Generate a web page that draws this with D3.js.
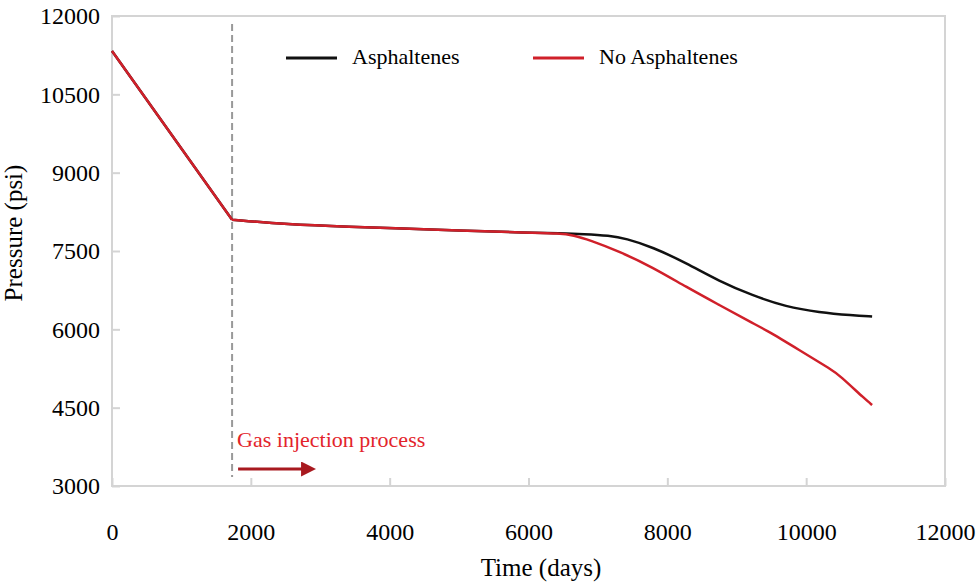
<!DOCTYPE html>
<html>
<head>
<meta charset="utf-8">
<script src="https://cdn.jsdelivr.net/npm/d3@7"></script>
<style>
  body { margin: 0; background: #fff; }
  text { font-family: "Liberation Serif", "Times New Roman", serif; }
</style>
</head>
<body>
<div id="chart"></div>
<script>
// values
const xTicks = [0, 2000, 4000, 6000, 8000, 10000, 12000];
const yTicks = [3000, 4500, 6000, 7500, 9000, 10500, 12000];

// depletion before injection (straight drop)
const depletionDays = [0, 1730];
const depletionPsi = [11330, 8100];

// shared part after injection starts, before the curves split
const commonDays = [1730, 2500, 3500, 4000, 5000, 6000, 6450];
const commonPsi = [8100, 8010, 7960, 7940, 7890, 7850, 7838];

const asphDays = [6450, 6800, 7165, 7400, 7784, 8273, 8748, 9223, 9712, 10187, 10662, 10950];
const asphPsi = [7838, 7825, 7795, 7740, 7576, 7270, 6920, 6650, 6430, 6325, 6268, 6245];

const noAsphDays = [6450, 6650, 6878, 7309, 7784, 8273, 8748, 9223, 9424, 9899, 10374, 10475, 10863, 10950];
const noAsphPsi = [7838, 7800, 7710, 7490, 7193, 6810, 6466, 6121, 5987, 5604, 5221, 5125, 4646, 4551];

const injectionDay = 1730;
const seriesNames = ['Asphaltenes', 'No Asphaltenes'];
const seriesColors = ['#111111', '#d0202a'];

const width = 976, height = 582;
const margin = { top: 16, right: 31, bottom: 96, left: 112 };
const innerW = width - margin.left - margin.right;
const innerH = height - margin.top - margin.bottom;

const svg = d3.select('#chart')
    .append('svg')
    .attr('width', width)
    .attr('height', height);

const g = svg.append('g')
    .attr('transform', `translate(${margin.left},${margin.top})`);

const x = d3.scaleLinear().domain([0, 12000]).range([0, innerW]);
const y = d3.scaleLinear().domain([3000, 12000]).range([innerH, 0]);

// frame
g.append('rect')
    .attr('width', innerW)
    .attr('height', innerH)
    .attr('fill', 'none')
    .attr('stroke', '#d4d4d4')
    .attr('stroke-width', 2);

function styleAxis(sel) {
    sel.attr('font-family', null);
    sel.select('.domain').remove();
    sel.selectAll('.tick line').attr('stroke', '#d4d4d4').attr('stroke-width', 2);
    sel.selectAll('.tick text')
        .attr('font-size', 24)
        .attr('fill', '#000');
}

// y axis
const yAxis = d3.axisLeft(y)
    .tickValues(yTicks)
    .tickSizeInner(-8)
    .tickSizeOuter(0)
    .tickPadding(12)
    .tickFormat(d3.format('d'));

g.append('g')
    .call(yAxis)
    .call(styleAxis);

// x axis
const xAxis = d3.axisBottom(x)
    .tickValues(xTicks)
    .tickSizeInner(-8)
    .tickSizeOuter(0)
    .tickPadding(37)
    .tickFormat(d3.format('d'));

g.append('g')
    .attr('transform', `translate(0,${innerH})`)
    .call(xAxis)
    .call(styleAxis);

// axis titles
svg.append('text')
    .attr('x', 541)
    .attr('y', 576)
    .attr('text-anchor', 'middle')
    .attr('font-size', 25)
    .text('Time (days)');

svg.append('text')
    .attr('transform', 'translate(22,233) rotate(-90)')
    .attr('text-anchor', 'middle')
    .attr('font-size', 25)
    .text('Pressure (psi)');

// injection start marker
g.append('line')
    .attr('x1', x(injectionDay))
    .attr('x2', x(injectionDay))
    .attr('y1', 8)
    .attr('y2', innerH - 9)
    .attr('stroke', '#999')
    .attr('stroke-width', 2)
    .attr('stroke-dasharray', '7,4');

const straight = d3.line()
    .x((d) => x(d[0]))
    .y((d) => y(d[1]));

const smooth = d3.line()
    .x((d) => x(d[0]))
    .y((d) => y(d[1]))
    .curve(d3.curveBasis);

const zip = (a, b) => a.map((d, i) => [d, b[i]]);
const depletion = zip(depletionDays, depletionPsi);
const common = zip(commonDays, commonPsi);

const series = [
    common.concat(zip(asphDays, asphPsi).slice(1)),
    common.concat(zip(noAsphDays, noAsphPsi).slice(1)),
];

series.forEach((pts, i) => {
    g.append('path')
        .attr('d', straight(depletion) + smooth(pts))
        .attr('fill', 'none')
        .attr('stroke', seriesColors[i])
        .attr('stroke-width', 2.5)
        .attr('stroke-linejoin', 'round');
});

// legend
const legendX = [174, 421];
seriesNames.forEach((name, i) => {
    g.append('line')
        .attr('x1', legendX[i])
        .attr('x2', legendX[i] + 51)
        .attr('y1', 42)
        .attr('y2', 42)
        .attr('stroke', seriesColors[i])
        .attr('stroke-width', 3);
    g.append('text')
        .attr('x', legendX[i] + 66)
        .attr('y', 48)
        .attr('font-size', 22)
        .text(name);
});

// gas injection annotation
svg.append('defs').append('marker')
    .attr('id', 'arrow')
    .attr('viewBox', '0 0 10 10')
    .attr('refX', 2)
    .attr('refY', 5)
    .attr('markerWidth', 5)
    .attr('markerHeight', 5)
    .attr('markerUnits', 'strokeWidth')
    .attr('orient', 'auto')
    .append('path')
    .attr('d', 'M0,0 L10,5 L0,10 Z')
    .attr('fill', '#a8191f');

g.append('line')
    .attr('x1', x(injectionDay) + 6)
    .attr('x2', x(injectionDay) + 72)
    .attr('y1', 453)
    .attr('y2', 453)
    .attr('stroke', '#a8191f')
    .attr('stroke-width', 3)
    .attr('marker-end', 'url(#arrow)');

g.append('text')
    .attr('x', x(injectionDay) + 5)
    .attr('y', 431)
    .attr('font-size', 22)
    .attr('fill', '#e3242b')
    .text('Gas injection process');
</script>
</body>
</html>
